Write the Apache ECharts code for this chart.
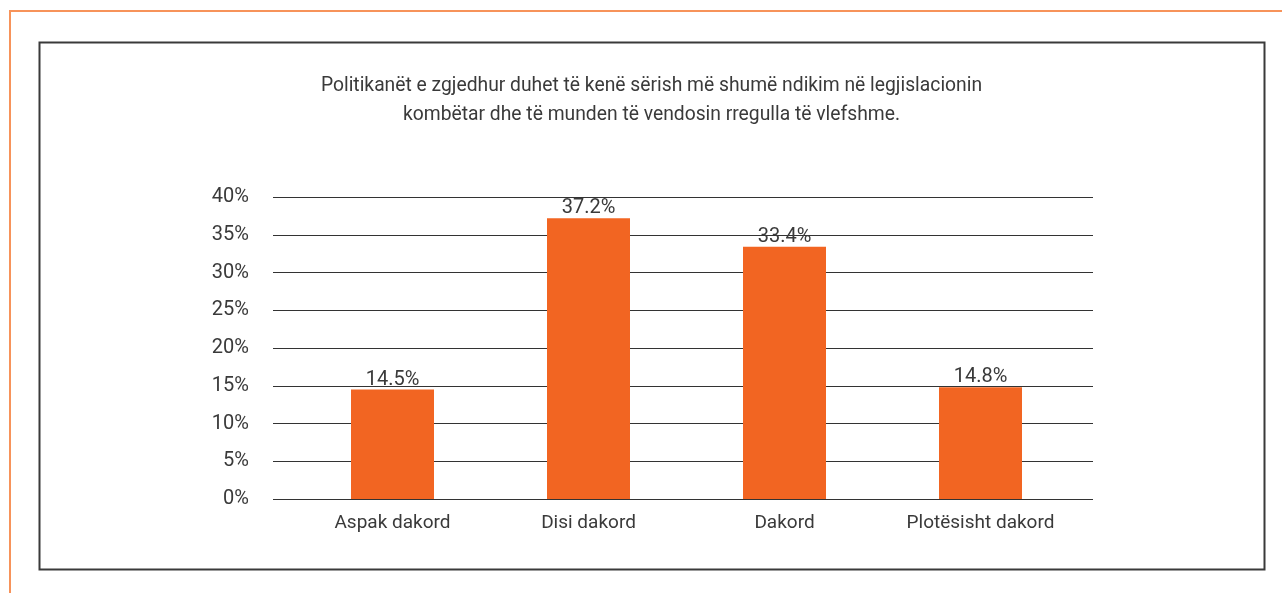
<!DOCTYPE html>
<html>
<head>
<meta charset="utf-8">
<script src="https://cdn.jsdelivr.net/npm/echarts@6/dist/echarts.min.js"></script>
<style>
  html, body { margin: 0; padding: 0; background: #fff; }
  #chart { width: 1282px; height: 593px; }
</style>
</head>
<body>
<div id="chart"></div>
<script>
  var categories = ['Aspak dakord', 'Disi dakord', 'Dakord', 'Plotësisht dakord'];
  var values = [14.5, 37.2, 33.4, 14.8];
  var titleLines = [
    'Politikanët e zgjedhur duhet të kenë sërish më shumë ndikim në legjislacionin',
    'kombëtar dhe të munden të vendosin rregulla të vlefshme.'
  ];

  var FONT = 'Roboto';
  var TXT = '#3a3a3a';

  var myChart = echarts.init(document.getElementById('chart'));
  var option = {
    animation: false,
    backgroundColor: '#fff',
    textStyle: { fontFamily: FONT },
    graphic: [
      {
        type: 'rect',
        shape: { x: 10, y: 11, width: 1300, height: 620 },
        style: { fill: 'none', stroke: '#f7935a', lineWidth: 2 },
        silent: true
      },
      {
        type: 'rect',
        shape: { x: 39.5, y: 42.5, width: 1225, height: 527 },
        style: { fill: 'none', stroke: '#3a3a3a', lineWidth: 2 },
        silent: true
      },
      // title (the box is a bit right of the canvas centre)
      {
        type: 'text',
        x: 651.5,
        y: 71.5,
        silent: true,
        style: {
          text: titleLines.join('\n'),
          fill: TXT,
          fontFamily: FONT,
          fontSize: 19.3,
          lineHeight: 29,
          align: 'center',
          verticalAlign: 'top'
        }
      }
    ],
    // grid 0: gridlines + percent labels, grid 1: the bars (narrower band)
    grid: [
      { left: 273, right: 189, top: 197, bottom: 94 },
      { left: 294.5, right: 203.5, top: 197, bottom: 94 }
    ],
    xAxis: [
      {
        type: 'value',
        gridIndex: 0,
        show: false
      },
      {
        type: 'category',
        gridIndex: 1,
        data: categories,
        axisLine: { show: false },
        axisTick: { show: false },
        axisLabel: {
          interval: 0,
          color: TXT,
          fontSize: 19,
          margin: 15,
          fontFamily: FONT
        }
      }
    ],
    yAxis: [
      {
        type: 'value',
        gridIndex: 0,
        min: 0,
        max: 40,
        interval: 5,
        axisLine: { show: false },
        axisTick: { show: false },
        axisLabel: {
          formatter: '{value}%',
          color: TXT,
          fontSize: 20,
          margin: 24,
          fontFamily: FONT
        },
        splitLine: { show: true, lineStyle: { color: '#333', width: 1 } }
      },
      {
        type: 'value',
        gridIndex: 1,
        min: 0,
        max: 40,
        interval: 5,
        show: false,
        splitLine: { show: false }
      }
    ],
    series: [
      {
        type: 'bar',
        xAxisIndex: 1,
        yAxisIndex: 1,
        data: values,
        barWidth: 83,
        itemStyle: { color: '#f26522' },
        label: {
          show: true,
          position: 'top',
          distance: 0,
          color: TXT,
          fontSize: 20,
          fontFamily: FONT,
          formatter: function (p) { return p.value.toFixed(1) + '%'; }
        }
      }
    ]
  };
  myChart.setOption(option);
</script>
</body>
</html>
